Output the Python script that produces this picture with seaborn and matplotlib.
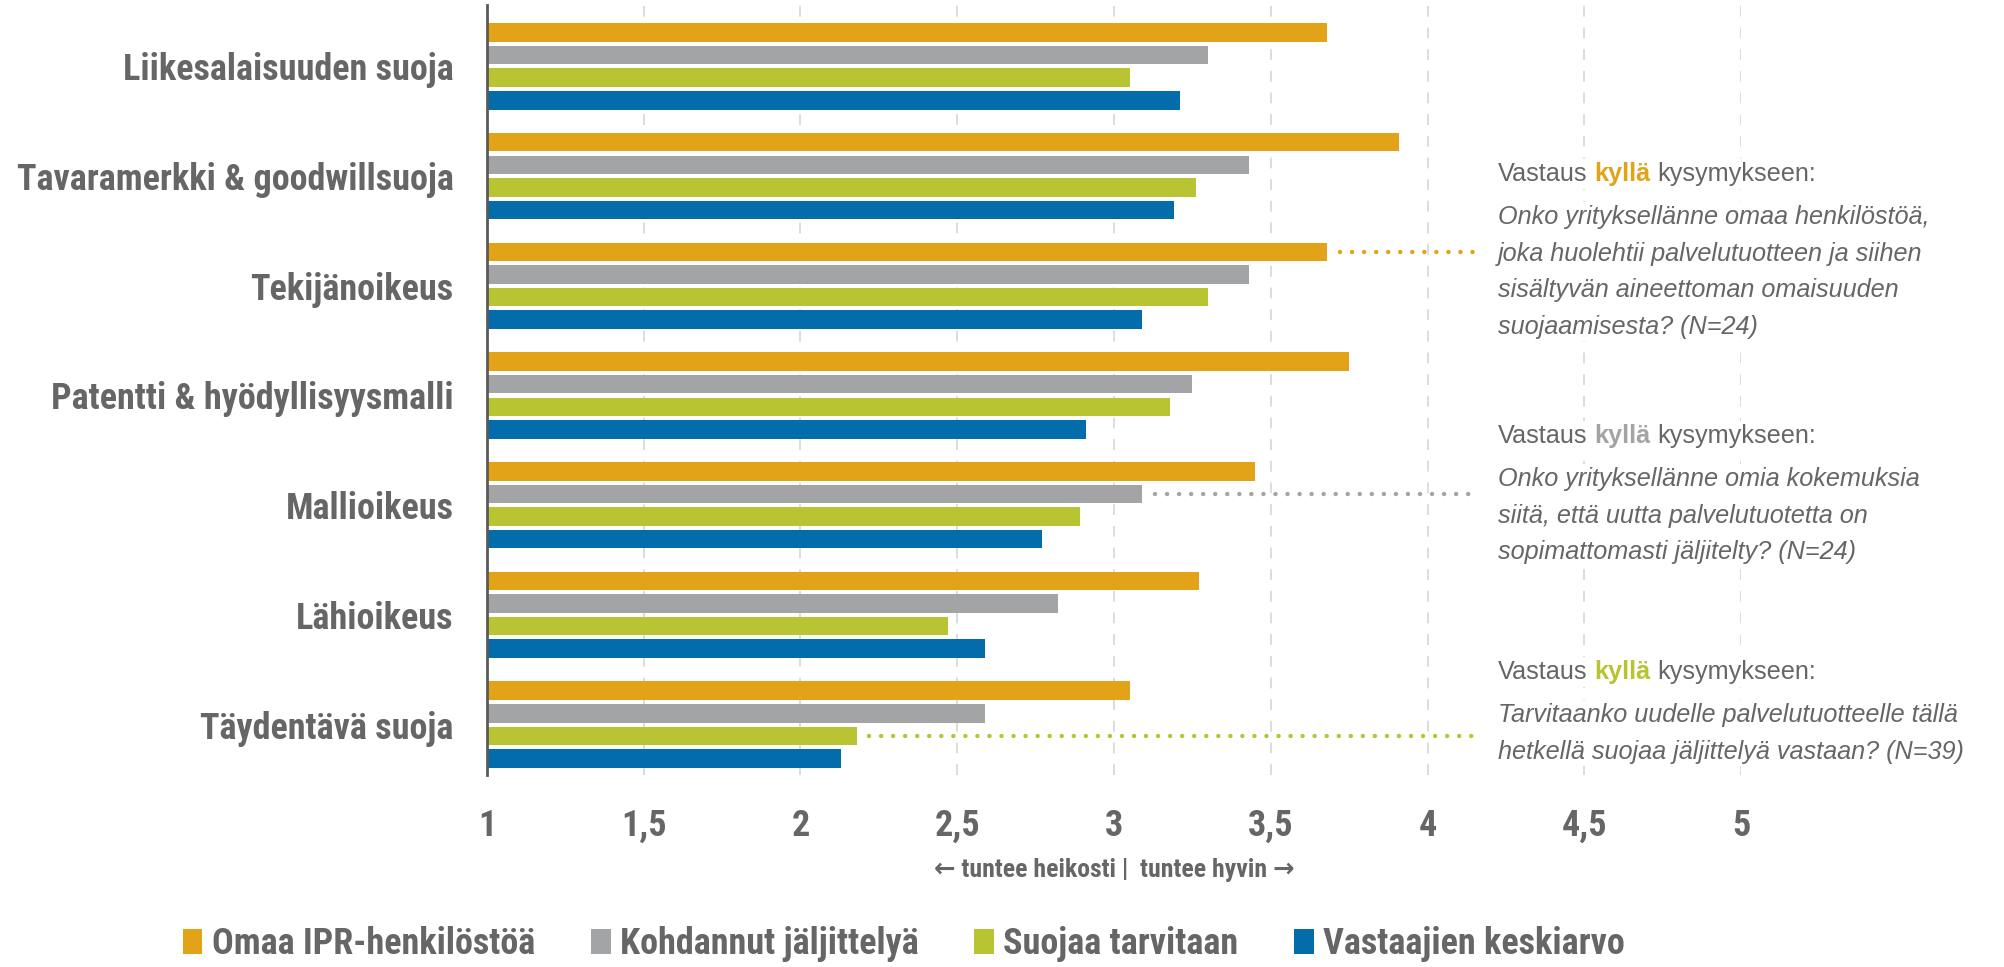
import pandas as pd
import matplotlib
matplotlib.use("Agg")
import matplotlib.pyplot as plt
from matplotlib.patches import Patch
import seaborn as sns

# -----------------------------
# Data
# -----------------------------
categories = [
    "Liikesalaisuuden suoja",
    "Tavaramerkki & goodwillsuoja",
    "Tekijänoikeus",
    "Patentti & hyödyllisyysmalli",
    "Mallioikeus",
    "Lähioikeus",
    "Täydentävä suoja",
]
series = ["Omaa IPR-henkilöstöä", "Kohdannut jäljittelyä", "Suojaa tarvitaan", "Vastaajien keskiarvo"]
omaa = [3.68, 3.91, 3.68, 3.75, 3.45, 3.27, 3.05]
kohdannut = [3.30, 3.43, 3.43, 3.25, 3.09, 2.82, 2.59]
suojaa = [3.05, 3.26, 3.30, 3.18, 2.89, 2.47, 2.18]
keskiarvo = [3.21, 3.19, 3.09, 2.91, 2.77, 2.59, 2.13]
xticks = [1, 1.5, 2, 2.5, 3, 3.5, 4, 4.5, 5]
xticklabels = ["1", "1,5", "2", "2,5", "3", "3,5", "4", "4,5", "5"]

colors = ["#E2A319", "#A3A4A6", "#B8C432", "#036CAB"]
TEXT = "#666666"
NARROW = ["Roboto Condensed", "DejaVu Sans"]
SANS = ["Liberation Sans", "DejaVu Sans"]

# notes: (series index, category index, lines)
notes = [
    (0, 2, ["Onko yrityksellänne omaa henkilöstöä,",
            "joka huolehtii palvelutuotteen ja siihen",
            "sisältyvän aineettoman omaisuuden",
            "suojaamisesta? (N=24)"]),
    (1, 4, ["Onko yrityksellänne omia kokemuksia",
            "siitä, että uutta palvelutuotetta on",
            "sopimattomasti jäljitelty? (N=24)"]),
    (2, 6, ["Tarvitaanko uudelle palvelutuotteelle tällä",
            "hetkellä suojaa jäljittelyä vastaan? (N=39)"]),
]

values = [omaa, kohdannut, suojaa, keskiarvo]
df = pd.DataFrame({
    "kategoria": [c for vals in values for c in categories],
    "sarja": [s for s, vals in zip(series, values) for _ in vals],
    "arvo": [v for vals in values for v in vals],
})

# -----------------------------
# Plot
# -----------------------------
sns.set_theme(style="white")
plt.rcParams["font.family"] = NARROW

fig = plt.figure(figsize=(20.04, 9.67), dpi=100)
ax = fig.add_axes([0.243, 1 - 775 / 967, 0.6258, 770 / 967])

sns.barplot(data=df, y="kategoria", x="arvo", hue="sarja", order=categories,
            hue_order=series, palette=colors, orient="h", width=0.824, gap=0.18,
            saturation=1, linewidth=0, legend=False, ax=ax)

ax.set_xlim(1, 5)
ax.set_ylim(6.46, -0.56)
ax.set_xticks(xticks)
ax.set_xticklabels(xticklabels)
ax.grid(axis="x", color="#DADADA", linestyle=(0, (6, 6)), linewidth=1.3)
ax.set_axisbelow(True)
for side in ["top", "right", "bottom"]:
    ax.spines[side].set_visible(False)
ax.spines["left"].set_color("#595959")
ax.spines["left"].set_linewidth(2)
ax.tick_params(axis="both", length=0, colors=TEXT)
ax.tick_params(axis="x", pad=24, labelsize=26)
ax.tick_params(axis="y", pad=24, labelsize=26)
for lab in ax.get_xticklabels() + ax.get_yticklabels():
    lab.set_fontweight("bold")
ax.set_xlabel("")
ax.set_ylabel("")

ax.text(3, -0.123, "← tuntee heikosti |  tuntee hyvin →", transform=ax.get_xaxis_transform(),
        ha="center", va="center", fontsize=18.5, fontweight="bold", color=TEXT)

# dotted leader lines and notes
n = len(series)
slot = 0.824 / n
note_y = [174, 436, 672]
for (si, ci, lines), hy in zip(notes, note_y):
    yb = ci - 0.824 / 2 + slot * (si + 0.5)
    val = values[si][ci]
    ax.plot([val + 0.04, 4.16], [yb, yb], color=colors[si], linewidth=3.2,
            linestyle=(0, (0.01, 2.7)), dash_capstyle="round", clip_on=False)
    fy = 1 - hy / 967
    t1 = fig.text(0.7475, fy, "Vastaus", ha="left", va="center", fontsize=18.2,
                  color=TEXT, family=SANS,
                  bbox=dict(fc="white", ec="none", pad=2))
    t2 = ax.annotate("kyllä", xy=(1, 0), xycoords=t1, xytext=(5, 0), textcoords="offset points",
                     ha="left", va="bottom", fontsize=18.2, color=colors[si],
                     fontweight="bold", family=SANS, annotation_clip=False)
    ax.annotate("kysymykseen:", xy=(1, 0), xycoords=t2, xytext=(5, 0), textcoords="offset points",
                ha="left", va="bottom", fontsize=18.2, color=TEXT, family=SANS,
                annotation_clip=False, bbox=dict(fc="white", ec="none", pad=2))
    fig.text(0.7475, fy - 31 / 967, "\n".join(lines), ha="left", va="top", fontsize=18.2,
             style="italic", color=TEXT, family=SANS, linespacing=1.66,
             bbox=dict(fc="white", ec="none", pad=2))

handles = [Patch(facecolor=c, edgecolor="none") for c in colors]
leg = fig.legend(handles, series, loc="center", bbox_to_anchor=(0.451, 0.024), ncol=4,
                 frameon=False, fontsize=26, handlelength=0.55, handleheight=0.7,
                 handletextpad=0.25, columnspacing=1.55)
for t in leg.get_texts():
    t.set_color(TEXT)
    t.set_fontweight("bold")

fig.savefig("out.png", dpi=100)
